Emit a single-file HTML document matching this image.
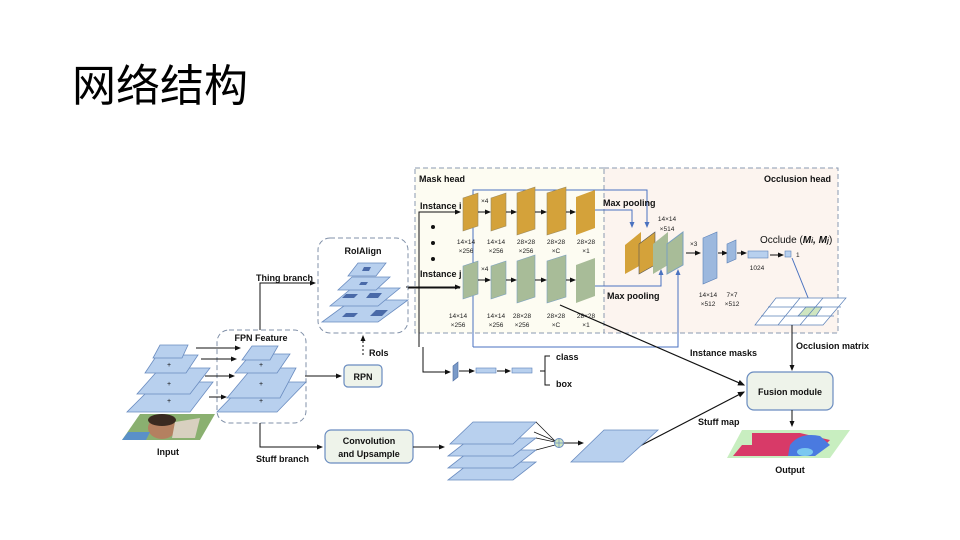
<!DOCTYPE html>
<html><head><meta charset="utf-8"><style>
body{margin:0;background:#fff;width:960px;height:540px;overflow:hidden}
svg{display:block}
text{font-family:"Liberation Sans","Noto Sans CJK SC",sans-serif}
.b{font-weight:bold;font-size:9px;fill:#111}
.s{font-size:6.5px;fill:#222}
</style></head><body>
<svg width="960" height="540" viewBox="0 0 960 540">
<defs>
<marker id="a" markerWidth="6" markerHeight="6" refX="5" refY="3" orient="auto"><path d="M0,0.5L6,3L0,5.5z" fill="#111"/></marker>
<marker id="ab" markerWidth="6" markerHeight="6" refX="5" refY="3" orient="auto"><path d="M0,0.5L6,3L0,5.5z" fill="#4a72c0"/></marker>
</defs>
<text x="72" y="101" font-size="44" fill="#000" font-family="'Noto Sans CJK SC',sans-serif">网络结构</text>

<rect x="415" y="168" width="190" height="165" fill="#fdfcf2" stroke="#8a9ab0" stroke-dasharray="5,3"/>
<rect x="604" y="168" width="234" height="165" fill="#fcf4ef" stroke="#8a9ab0" stroke-dasharray="5,3"/>
<text x="419" y="182" class="b">Mask head</text>
<text x="764" y="182" class="b">Occlusion head</text>

<g stroke="#4a72c0" fill="none" stroke-width="1">
<polyline points="473,347 473,190 647,190 647,227" marker-end="url(#ab)"/>
<polyline points="473,347 678,347 678,270" marker-end="url(#ab)"/>
<polyline points="595,210 632,210 632,227" marker-end="url(#ab)"/>
<polyline points="595,286 661,286 661,270" marker-end="url(#ab)"/>
<line x1="792" y1="258" x2="815" y2="315" marker-end="url(#ab)"/>
</g>
<text x="603" y="206" class="b" font-size="7">Max pooling</text>
<text x="607" y="299" class="b" font-size="7">Max pooling</text>

<text x="420" y="209" class="b" font-size="6.5">Instance i</text>
<text x="420" y="277" class="b" font-size="6.5">Instance j</text>
<circle cx="433" cy="227" r="2" fill="#111"/><circle cx="433" cy="243" r="2" fill="#111"/><circle cx="433" cy="259" r="2" fill="#111"/>
<polyline points="419,347 419,212 460,212" fill="none" stroke="#111" marker-end="url(#a)"/>
<polyline points="406,287 460,287" fill="none" stroke="#111" marker-end="url(#a)"/>
<g fill="#d4a23a" stroke="#9a8a60" stroke-width="0.6">
<polygon points="463,198 478,193 478,226 463,231"/>
<polygon points="491,198 506,193 506,226 491,231"/>
<polygon points="517,193 535,187 535,229 517,235"/>
<polygon points="547,193 566,187 566,229 547,235"/>
<polygon points="576,197 595,190 595,228 576,235" stroke="none"/>
</g>
<g stroke="#111" fill="none" marker-end="url(#a)">
<line x1="478" y1="212" x2="490" y2="212"/><line x1="506" y1="212" x2="516" y2="212"/>
<line x1="535" y1="212" x2="546" y2="212"/><line x1="566" y1="212" x2="575" y2="212"/>
</g>
<text x="481" y="203" class="s">×4</text>
<g fill="#a8bc98" stroke="#7aa0c0" stroke-width="0.6">
<polygon points="463,266 478,261 478,294 463,299"/>
<polygon points="491,266 506,261 506,294 491,299"/>
<polygon points="517,261 535,255 535,297 517,303"/>
<polygon points="547,261 566,255 566,297 547,303"/>
<polygon points="576,265 595,258 595,296 576,303" stroke="none"/>
</g>
<g stroke="#111" fill="none" marker-end="url(#a)">
<line x1="478" y1="280" x2="490" y2="280"/><line x1="506" y1="280" x2="516" y2="280"/>
<line x1="535" y1="280" x2="546" y2="280"/><line x1="566" y1="280" x2="575" y2="280"/>
</g>
<text x="481" y="271" class="s">×4</text>
<g class="s" text-anchor="middle">
<text x="466" y="244">14×14</text><text x="466" y="253">×256</text>
<text x="496" y="244">14×14</text><text x="496" y="253">×256</text>
<text x="526" y="244">28×28</text><text x="526" y="253">×256</text>
<text x="556" y="244">28×28</text><text x="556" y="253">×C</text>
<text x="586" y="244">28×28</text><text x="586" y="253">×1</text>
<text x="458" y="318">14×14</text><text x="458" y="327">×256</text>
<text x="496" y="318">14×14</text><text x="496" y="327">×256</text>
<text x="522" y="318">28×28</text><text x="522" y="327">×256</text>
<text x="556" y="318">28×28</text><text x="556" y="327">×C</text>
<text x="586" y="318">28×28</text><text x="586" y="327">×1</text>
<text x="667" y="221">14×14</text><text x="667" y="231">×514</text>
<text x="708" y="297">14×14</text><text x="708" y="306">×512</text>
<text x="732" y="297">7×7</text><text x="732" y="306">×512</text>
<text x="757" y="270">1024</text>
</g>

<polygon points="625,245 641,232 641,265 625,274" fill="#d4a23a"/>
<polygon points="639,244 655,232 655,265 639,274" fill="#d4a23a" stroke="#555" stroke-width="0.6"/>
<polygon points="653,244 668,232 668,265 653,274" fill="#a8bc98"/>
<polygon points="667,244 683,232 683,265 667,274" fill="#a8bc98" stroke="#7aa0c0"/>
<line x1="686" y1="253" x2="700" y2="253" stroke="#111" marker-end="url(#a)"/>
<text x="690" y="246" class="s">×3</text>
<polygon points="703,238 717,232 717,278 703,284" fill="#9cb8de" stroke="#5a80b8" stroke-width="0.6"/>
<line x1="718" y1="253" x2="727" y2="253" stroke="#111" marker-end="url(#a)"/>
<polygon points="727,244 736,240 736,259 727,263" fill="#9cb8de" stroke="#5a80b8" stroke-width="0.6"/>
<line x1="737" y1="253" x2="746" y2="253" stroke="#111" marker-end="url(#a)"/>
<rect x="748" y="251" width="20" height="7" fill="#b8d0ee" stroke="#5a80b8" stroke-width="0.6"/>
<line x1="770" y1="255" x2="783" y2="255" stroke="#111" marker-end="url(#a)"/>
<rect x="785" y="251" width="6" height="6" fill="#b8d0ee" stroke="#5a80b8" stroke-width="0.6"/>
<text x="796" y="257" class="s">1</text>
<text x="760" y="243" font-size="10" fill="#111">Occlude (<tspan font-weight="bold" font-style="italic">M<tspan font-size="7">i</tspan>, M<tspan font-size="7">j</tspan></tspan>)</text>
<g stroke="#5a80b8" stroke-width="0.7" fill="#fff">
<polygon points="755,325 776,298 846,298 823,325"/>
<polygon points="806,307 822,307 816,316 798,316" fill="#cfe6c0"/>
<line x1="768" y1="307" x2="841" y2="307" fill="none"/><line x1="761" y1="316" x2="834" y2="316"/>
<line x1="800" y1="298" x2="778" y2="325"/><line x1="823" y1="298" x2="800" y2="325"/>
</g>
<line x1="792" y1="325" x2="792" y2="370" stroke="#111" marker-end="url(#a)"/>
<text x="796" y="349" class="b">Occlusion matrix</text>

<rect x="747" y="372" width="86" height="38" rx="7" fill="#eef3ea" stroke="#6a8cc0" stroke-width="1.2"/>
<text x="790" y="395" class="b" text-anchor="middle">Fusion module</text>
<line x1="792" y1="410" x2="792" y2="426" stroke="#111" marker-end="url(#a)"/>
<polygon points="742,430 850,430 830,458 727,458" fill="#c8eec0"/>
<polygon points="752,433 800,433 830,440 815,456 733,456 742,445 752,445" fill="#d83a68"/>
<path d="M790,445 Q800,432 820,436 L830,445 L815,456 L788,456 Z" fill="#4a7ae0"/>
<ellipse cx="805" cy="452" rx="8" ry="4" fill="#7ac8f0"/>
<text x="790" y="473" class="b" text-anchor="middle">Output</text>
<line x1="560" y1="305" x2="744" y2="385" stroke="#111" stroke-width="1.2" marker-end="url(#a)"/>
<text x="690" y="356" class="b">Instance masks</text>
<line x1="638" y1="447" x2="744" y2="392" stroke="#111" stroke-width="1.2" marker-end="url(#a)"/>
<text x="698" y="425" class="b">Stuff map</text>

<polyline points="423,347 423,372 450,372" fill="none" stroke="#111" marker-end="url(#a)"/>
<polygon points="453,366 458,362 458,377 453,381" fill="#7a9ac8" stroke="#4a6aa0" stroke-width="0.6"/>
<line x1="459" y1="371" x2="474" y2="371" stroke="#111" marker-end="url(#a)"/>
<rect x="476" y="368" width="20" height="5" fill="#b8d0ee" stroke="#5a80b8" stroke-width="0.6"/>
<line x1="497" y1="371" x2="510" y2="371" stroke="#111" marker-end="url(#a)"/>
<rect x="512" y="368" width="20" height="5" fill="#b8d0ee" stroke="#5a80b8" stroke-width="0.6"/>
<polyline points="550,356 545,356 545,385 550,385" fill="none" stroke="#111"/>
<line x1="540" y1="371" x2="545" y2="371" stroke="#111"/>
<text x="556" y="360" class="b">class</text>
<text x="556" y="387" class="b">box</text>

<rect x="318" y="238" width="90" height="95" rx="12" fill="none" stroke="#8090a8" stroke-dasharray="5,3"/>
<text x="363" y="254" class="b" text-anchor="middle">RoIAlign</text>
<g fill="#b8d0ee" stroke="#6a8cc0" stroke-width="0.8">
<polygon points="322,322 378,322 408,300 352,300"/>
<polygon points="330,306 378,306 400,288 352,288"/>
<polygon points="338,290 376,290 390,277 352,277"/>
<polygon points="348,276 376,276 386,263 358,263"/>
</g>
<g fill="#4a6aa8">
<polygon points="342,317 354,317 358,313 346,313"/><polygon points="370,316 382,316 388,310 376,310"/>
<polygon points="342,298 354,298 358,294 346,294"/><polygon points="366,298 378,298 382,293 370,293"/>
<polygon points="359,285 366,285 368,282 361,282"/><polygon points="362,271 369,271 371,267 364,267"/>
</g>
<line x1="363" y1="355" x2="363" y2="336" stroke="#111" stroke-dasharray="2,2" marker-end="url(#a)"/>
<text x="369" y="356" class="b">RoIs</text>
<polyline points="260,330 260,283 315,283" fill="none" stroke="#111" marker-end="url(#a)"/>
<text x="256" y="281" class="b">Thing branch</text>
<line x1="408" y1="288" x2="460" y2="288" stroke="#111"/>

<rect x="344" y="365" width="38" height="22" rx="4" fill="#eef3ea" stroke="#6a8cc0" stroke-width="1.2"/>
<text x="363" y="380" class="b" text-anchor="middle">RPN</text>
<line x1="305" y1="376" x2="341" y2="376" stroke="#111" marker-end="url(#a)"/>

<rect x="217" y="330" width="89" height="93" rx="12" fill="none" stroke="#8090a8" stroke-dasharray="5,3"/>
<text x="261" y="341" class="b" text-anchor="middle">FPN Feature</text>
<g fill="#b8d0ee" stroke="#6a8cc0" stroke-width="0.8">
<polygon points="217,412 277,412 306,382 246,382"/>
<polygon points="227,398 280,398 296,368 252,368"/>
<polygon points="235,373 277,373 290,354 251,354"/>
<polygon points="242,360 270,360 278,346 252,346"/>
<polygon points="127,412 190,412 213,382 157,382"/>
<polygon points="137,394 190,394 210,368 160,368"/>
<polygon points="145,373 186,373 198,355 157,355"/>
<polygon points="153,358 182,358 188,345 160,345"/>
</g>
<g stroke="#111" marker-end="url(#a)">
<line x1="196" y1="348" x2="240" y2="348"/><line x1="201" y1="359" x2="236" y2="359"/>
<line x1="205" y1="376" x2="234" y2="376"/><line x1="209" y1="397" x2="226" y2="397"/>
</g>
<g fill="#111" font-size="7"><text x="167" y="367">+</text><text x="167" y="386">+</text><text x="167" y="403">+</text>
<text x="259" y="367">+</text><text x="259" y="386">+</text><text x="259" y="403">+</text></g>
<polygon points="140,414 215,414 200,440 122,440" fill="#8ab070"/>
<ellipse cx="162" cy="428" rx="14" ry="11" fill="#b48060"/>
<ellipse cx="162" cy="420" rx="14" ry="6" fill="#3a2a20"/>
<polygon points="175,422 200,418 195,438 172,438" fill="#d8d0c0"/>
<polygon points="128,432 150,432 146,440 122,440" fill="#5a90c8"/>
<text x="168" y="455" class="b" text-anchor="middle">Input</text>

<polyline points="260,423 260,447 322,447" fill="none" stroke="#111" marker-end="url(#a)"/>
<text x="256" y="462" class="b">Stuff branch</text>
<rect x="325" y="430" width="88" height="33" rx="6" fill="#eef3ea" stroke="#6a8cc0" stroke-width="1.2"/>
<text x="369" y="444" class="b" text-anchor="middle">Convolution</text>
<text x="369" y="457" class="b" text-anchor="middle">and Upsample</text>
<line x1="413" y1="447" x2="444" y2="447" stroke="#111" marker-end="url(#a)"/>
<g fill="#b8d0ee" stroke="#6a8cc0" stroke-width="0.8">
<polygon points="448,480 513,480 536,462 471,462"/>
<polygon points="448,468 513,468 536,450 471,450"/>
<polygon points="448,456 513,456 536,438 471,438"/>
<polygon points="450,444 513,444 536,422 473,422"/>
</g>
<g stroke="#111" stroke-width="0.7">
<line x1="536" y1="422" x2="555" y2="441"/><line x1="534" y1="432" x2="555" y2="441"/>
<line x1="536" y1="438" x2="555" y2="442"/><line x1="536" y1="450" x2="555" y2="445"/>
</g>
<circle cx="559" cy="443" r="4.5" fill="#cfe6c0" stroke="#6a8cc0"/>
<path d="M554.5,443h9M559,438.5v9" stroke="#6a8cc0" stroke-width="0.7"/>
<line x1="564" y1="443" x2="583" y2="443" stroke="#111" marker-end="url(#a)"/>
<polygon points="571,462 623,462 658,430 604,430" fill="#b8d0ee" stroke="#6a8cc0" stroke-width="0.8"/>
</svg>
</body></html>
